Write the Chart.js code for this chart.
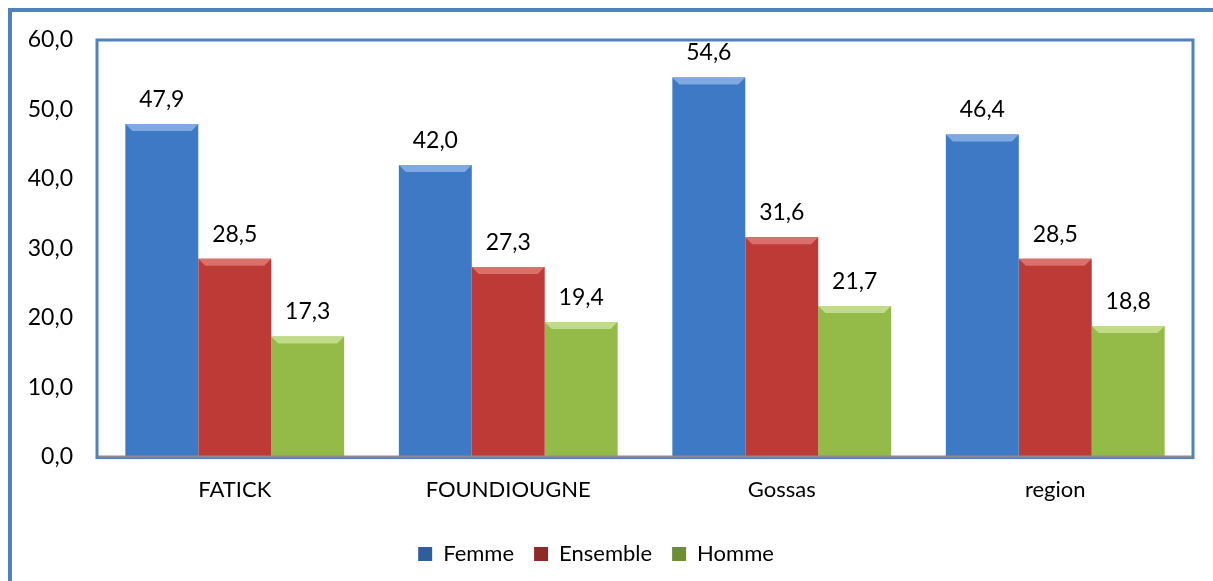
<!DOCTYPE html>
<html lang="fr">
<head>
    <meta charset="UTF-8">
    <title>Femme / Ensemble / Homme</title>
    <script src="https://cdn.jsdelivr.net/npm/chart.js"></script>
    <style>
        body {
            margin: 0;
            padding: 0;
            background: white;
            overflow: hidden;
        }
        .frame {
            position: absolute;
            left: 8px;
            top: 8px;
            width: 1300px;
            height: 700px;
            border-left: 4px solid #4F81BD;
            border-top: 4px solid #4F81BD;
        }
        .wrap {
            position: absolute;
            left: 0;
            top: 0;
            width: 1213px;
            height: 581px;
        }
    </style>
</head>
<body>
    <div class="frame"></div>
    <div class="wrap"><canvas id="chart"></canvas></div>

    <script>
        const categories = ['FATICK', 'FOUNDIOUGNE', 'Gossas', 'region'];
        const femme = [47.9, 42.0, 54.6, 46.4];
        const ensemble = [28.5, 27.3, 31.6, 28.5];
        const homme = [17.3, 19.4, 21.7, 18.8];

        const font = "Lato, 'Liberation Sans', sans-serif";
        const fmt = v => v.toFixed(1).replace('.', ',');

        // horizontal shading so the bars look a bit rounded like the original
        function shade(light, mid, dark) {
            return function (ctx) {
                const el = ctx.element;
                if (!el || el.width == null) return mid;
                const c = ctx.chart.ctx;
                const g = c.createLinearGradient(el.x - el.width / 2, 0, el.x + el.width / 2, 0);
                g.addColorStop(0, dark);
                g.addColorStop(0.06, mid);
                g.addColorStop(0.5, light);
                g.addColorStop(0.94, mid);
                g.addColorStop(1, dark);
                return g;
            };
        }

        const plotBox = {
            id: 'plotBox',
            afterDraw(chart) {
                const { ctx, chartArea: a } = chart;
                ctx.save();
                ctx.strokeStyle = '#4F81BD';
                ctx.lineWidth = 3;
                ctx.strokeRect(a.left - 1, a.top, a.right - a.left + 2, a.bottom - a.top + 1);
                ctx.strokeStyle = '#8C8C8C';
                ctx.lineWidth = 2;
                ctx.beginPath();
                ctx.moveTo(a.left, a.bottom);
                ctx.lineTo(a.right, a.bottom);
                ctx.stroke();
                ctx.restore();
            }
        };

        const bevel = {
            id: 'bevel',
            afterDatasetsDraw(chart) {
                const ctx = chart.ctx;
                const tops = ['#7FA9E0', '#DB6F6B', '#C0DC86'];
                chart.data.datasets.forEach((ds, i) => {
                    chart.getDatasetMeta(i).data.forEach(bar => {
                        const p = bar.getProps(['x', 'y', 'width'], true);
                        const l = p.x - p.width / 2, r = p.x + p.width / 2, b = 7;
                        ctx.save();
                        ctx.fillStyle = tops[i];
                        ctx.beginPath();
                        ctx.moveTo(l, p.y);
                        ctx.lineTo(r, p.y);
                        ctx.lineTo(r - b, p.y + b);
                        ctx.lineTo(l + b, p.y + b);
                        ctx.closePath();
                        ctx.fill();
                        ctx.restore();
                    });
                });
            }
        };

        const valueLabels = {
            id: 'valueLabels',
            afterDatasetsDraw(chart) {
                const ctx = chart.ctx;
                ctx.save();
                ctx.font = '23px ' + font;
                ctx.fillStyle = '#000';
                ctx.textAlign = 'center';
                ctx.textBaseline = 'alphabetic';
                chart.data.datasets.forEach((ds, i) => {
                    chart.getDatasetMeta(i).data.forEach((bar, j) => {
                        ctx.fillText(fmt(ds.data[j]), bar.x, bar.y - 17);
                    });
                });
                ctx.restore();
            }
        };

        new Chart(document.getElementById('chart'), {
            type: 'bar',
            data: {
                labels: categories,
                datasets: [
                    { label: 'Femme', data: femme, backgroundColor: shade('#4488DA', '#3D79C5', '#2F5E9C') },
                    { label: 'Ensemble', data: ensemble, backgroundColor: shade('#CC4440', '#BD3A36', '#8F2A27') },
                    { label: 'Homme', data: homme, backgroundColor: shade('#A2CB50', '#94BB47', '#6F8D33') }
                ]
            },
            options: {
                responsive: true,
                maintainAspectRatio: false,
                animation: false,
                layout: { padding: { top: 40, right: 21, left: 0, bottom: 6 } },
                datasets: {
                    bar: { categoryPercentage: 0.8, barPercentage: 1.0 }
                },
                scales: {
                    x: {
                        grid: { display: false, drawTicks: false },
                        border: { display: false },
                        ticks: { color: '#000', font: { family: font, size: 22 }, padding: 20 }
                    },
                    y: {
                        min: 0,
                        max: 60,
                        afterFit(scale) { scale.width = 98; },
                        grid: { display: false, drawTicks: false },
                        border: { display: false },
                        ticks: {
                            stepSize: 10,
                            color: '#000',
                            padding: 25,
                            font: { family: font, size: 23 },
                            callback: v => fmt(v)
                        }
                    }
                },
                plugins: {
                    legend: {
                        position: 'bottom',
                        labels: {
                            color: '#000',
                            font: { family: font, size: 22 },
                            boxWidth: 14,
                            boxHeight: 14,
                            padding: 20
                        }
                    },
                    tooltip: { enabled: false }
                }
            },
            plugins: [plotBox, bevel, valueLabels]
        });
    </script>
</body>
</html>
